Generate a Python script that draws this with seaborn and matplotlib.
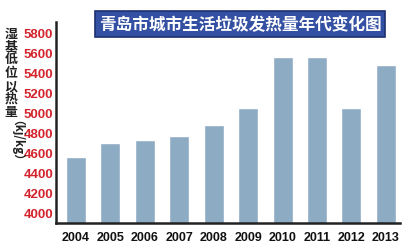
import matplotlib
matplotlib.use("Agg")
import matplotlib.pyplot as plt
import seaborn as sns
import pandas as pd

years = ["2004", "2005", "2006", "2007", "2008", "2009", "2010", "2011", "2012", "2013"]
values = [4550, 4690, 4720, 4765, 4870, 5040, 5550, 5555, 5040, 5470]
yticks = [4000, 4200, 4400, 4600, 4800, 5000, 5200, 5400, 5600, 5800]
title = "青岛市城市生活垃圾发热量年代变化图"
ylabel_cn = "湿基低位以热量"
ylabel_unit = "（kj/kg）"

sns.set_theme(style="white")
plt.rcParams['font.family'] = ['Noto Sans CJK SC', 'DejaVu Sans']

df = pd.DataFrame({"year": years, "value": values})

fig = plt.figure(figsize=(4.10, 2.51), dpi=100)
ax = fig.add_axes([56/410, 1-224/251, (400-56)/410, (224-23)/251])
sns.barplot(data=df, x="year", y="value", color="#8eabc4", saturation=1,
            width=0.58, ax=ax)
ax.set_xlim(-0.58, 9.41)
ax.set_ylim(3890, 5900)
ax.set_yticks(yticks)
ax.set_yticklabels([str(t) for t in yticks], color="#d3232c", fontweight="bold",
                   fontsize=9.5, family=["Liberation Sans"])
ax.set_xticklabels(years, color="#111111", fontweight="bold", fontsize=9,
                   family=["Liberation Sans"])
ax.tick_params(axis="both", length=0, pad=2)
ax.tick_params(axis="x", pad=6)
ax.set_xlabel("")
ax.set_ylabel("")
for s in ["top", "right"]:
    ax.spines[s].set_visible(False)
for s in ["left", "bottom"]:
    ax.spines[s].set_color("#222222")
    ax.spines[s].set_linewidth(1.8)

# vertical chinese y label, one character per line
for i, ch in enumerate(ylabel_cn):
    fig.text(11/410, 1-(34 + 13.0*i)/251, ch, ha="center", va="center",
             fontsize=9.3, fontweight="bold", color="#222222")
fig.text(11/410, 1-146/251, ylabel_unit, ha="center", va="center",
         rotation=-90, fontsize=8.5, fontweight="bold", color="#222222")

# title box
fig.text(240/410, 1-25/251, title, ha="center", va="center", fontsize=12,
         fontweight="bold", color="white",
         bbox=dict(boxstyle="square,pad=0.25", facecolor="#3450a2",
                   edgecolor="#1c2f70", linewidth=1.2))

fig.savefig("out.png", dpi=100)
